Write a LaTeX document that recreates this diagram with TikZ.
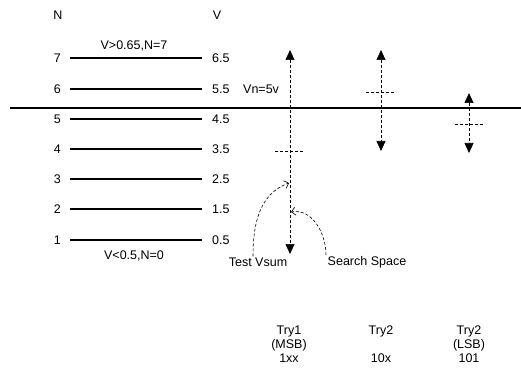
\documentclass[tikz,border=0pt]{standalone}
\usepackage{fontspec}
\setmainfont{Liberation Sans}
\usetikzlibrary{arrows.meta}
\tikzset{
  lbl/.style={inner sep=1pt,font=\fontsize{12.5}{14}\selectfont},
  lvlline/.style={line width=1.2pt},
  srch/.style={dashed,dash pattern=on 3pt off 2pt,line width=0.7pt,{Triangle[width=9pt,length=10pt]}-{Triangle[width=9pt,length=10pt]}},
  tick/.style={dashed,dash pattern=on 3pt off 2pt,line width=0.5pt},
  callout/.style={dashed,dash pattern=on 3pt off 2pt,line width=0.6pt,-{Straight Barb[length=4pt,width=8pt]}}
}
\begin{document}
\begin{tikzpicture}[x=1pt,y=-1pt]
\useasboundingbox (0,0) rectangle (521,371);
% headers
\node[lbl] (hN) at (58,15) {N};
\node[lbl] (hV) at (217,15) {V};
% levels
\foreach \n/\v/\y in {7/6.5/58,6/5.5/89,5/4.5/119,4/3.5/149,3/2.5/179,2/1.5/209,1/0.5/240}{
  \node[lbl,anchor=east] (num\n) at (62,\y) {\n};
  \node[lbl,anchor=west] (val\n) at (211,\y) {\v};
  \draw[lvlline] (70,\y) -- (202,\y);
}
\node[lbl] (top) at (134,46) {V>0.65,N=7};
\node[lbl] (bot) at (134,256) {V<0.5,N=0};
% threshold
\coordinate (thL) at (10,108);
\coordinate (thR) at (521,108);
\draw[line width=1.4pt] (thL) -- (thR);
\node[lbl,anchor=west] (vn) at (242,89) {Vn=5v};
% try 1
\coordinate (t1a) at (290,50);
\coordinate (t1b) at (290,254);
\draw[srch] (t1a) -- (t1b);
\draw[tick] (275,151) -- (304,151);
% try 2
\coordinate (t2a) at (381,50);
\coordinate (t2b) at (381,151);
\draw[srch] (t2a) -- (t2b);
\draw[tick] (366,92) -- (396,92);
% try 3
\coordinate (t3a) at (469,93);
\coordinate (t3b) at (469,153);
\draw[srch] (t3a) -- (t3b);
\draw[tick] (455,124) -- (484,124);
% callouts
\node[lbl] (tv) at (258,262) {Test Vsum};
\node[lbl] (ss) at (367,262) {Search Space};
\coordinate (tvpt) at (289,183);
\coordinate (sspt) at (291,212);
\draw[callout] (tv.north -| 253,0) to[out=90,in=200] (tvpt);
\draw[callout] (ss.north -| 326,0) to[out=90,in=10] (sspt);
% bottom labels
\node[lbl,align=center,anchor=north] (try1) at (289,325) {Try1\\(MSB)\\1xx};
\node[lbl,align=center,anchor=north] (try2) at (381,325) {Try2\\\phantom{(MSB)}\\10x};
\node[lbl,align=center,anchor=north] (try3) at (469,325) {Try2\\(LSB)\\101};
\end{tikzpicture}
\end{document}
